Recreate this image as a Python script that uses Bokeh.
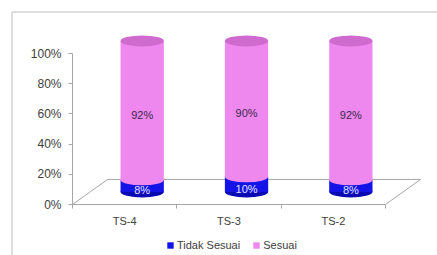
from bokeh.plotting import figure
from bokeh.models import (ColumnDataSource, FixedTicker, NumeralTickFormatter,
                          Legend, LegendItem, Range1d)
from bokeh.embed import file_html
from bokeh.resources import INLINE
from bokeh.core.properties import value

# ---- data ----
categories = ["TS-4", "TS-3", "TS-2"]
tidak_sesuai = [0.08, 0.10, 0.08]
sesuai = [0.92, 0.90, 0.92]
tidak_labels = ["8%", "10%", "8%"]
sesuai_labels = ["92%", "90%", "92%"]
y_ticks = [0, 0.2, 0.4, 0.6, 0.8, 1.0]

# ---- style / geometry ----
FONT = "Liberation Sans"
TXT = "#404040"
GRID = "#a6a6a6"
BLUE = "#1414e6"
BLUE_DARK = "#0a0ab4"
PINK = "#ee88ee"
PINK_TOP = "#cf6acf"
DX, DY = 0.168, 0.083          # half depth offset in data units
CW, EH = 0.415, 0.072          # cylinder width, ellipse height

W, H = 437, 255
X0, XS = 72, 104.33            # canvas px of x=0, px per x unit
Y0, YS = 204, 151              # canvas px of y=0, px per y unit


def px_x(px):
    return (px - X0) / XS


def px_y(py):
    return (Y0 - py) / YS


n = len(categories)
xc = [i + 0.5 + DX for i in range(n)]
base = [DY] * n
split = [b + t for b, t in zip(base, tidak_sesuai)]
top = [s + v for s, v in zip(split, sesuai)]

src = ColumnDataSource(dict(
    x=xc, base=base, split=split, top=top,
    blue_mid=[(b + s) / 2 for b, s in zip(base, split)],
    blue_h=tidak_sesuai,
    pink_mid=[(s + t) / 2 for s, t in zip(split, top)],
    pink_h=sesuai,
    pink_lab_y=[(s + t) / 2 - 0.03 for s, t in zip(split, top)],
    blue_lab_y=[(b + s) / 2 - 0.03 for b, s in zip(base, split)],
    tl=tidak_labels, sl=sesuai_labels,
))

p = figure(width=W, height=H, output_backend="svg", toolbar_location=None,
           x_range=Range1d(px_x(0), px_x(W)), y_range=Range1d(px_y(H), px_y(0)),
           min_border=0)
p.outline_line_color = None
p.grid.visible = False

# chart-area border (top and left)
bx, by = px_x(11.5), px_y(11.5)
p.segment([bx, bx], [by, by], [bx, px_x(W)], [px_y(H), by],
          line_color="#bdbdbd", line_width=1)

# floor
p.patch([0, 3, 3 + 2 * DX, 2 * DX], [0, 0, 2 * DY, 2 * DY],
        fill_color=None, line_color=GRID, line_width=1)

# blue segment
p.ellipse("x", "base", width=CW, height=EH, source=src,
          fill_color=BLUE_DARK, line_color=None)
r_blue = p.rect("x", "blue_mid", width=CW, height="blue_h", source=src,
                fill_color=BLUE, line_color=None)
# pink segment
p.ellipse("x", "split", width=CW, height=EH, source=src,
          fill_color=PINK, line_color=None)
r_pink = p.rect("x", "pink_mid", width=CW, height="pink_h", source=src,
                fill_color=PINK, line_color=None)
p.ellipse("x", "top", width=CW, height=EH, source=src,
          fill_color=PINK_TOP, line_color=None)

# labels
p.text("x", "pink_lab_y", text="sl", source=src, text_font=value(FONT),
       text_font_size="11px", text_color="#3a2a4a", text_align="center",
       text_baseline="middle")
p.text("x", "blue_lab_y", text="tl", source=src, text_font=value(FONT),
       text_font_size="11px", text_color="#e0e0ff", text_align="center",
       text_baseline="middle")

# axes
ya = p.yaxis[0]
ya.fixed_location = 0
ya.ticker = FixedTicker(ticks=y_ticks)
ya.formatter = NumeralTickFormatter(format="0%")
ya.bounds = (0, 1)
ya.axis_line_color = GRID
ya.major_tick_line_color = GRID
ya.major_tick_out = 4
ya.major_tick_in = 0
ya.minor_tick_line_color = None
ya.major_label_text_font = FONT
ya.major_label_text_font_size = "12px"
ya.major_label_text_color = TXT
ya.major_label_standoff = 7

xa = p.xaxis[0]
xa.fixed_location = 0
xa.ticker = FixedTicker(ticks=[i + 0.5 for i in range(n)],
                        minor_ticks=list(range(n + 1)))
xa.major_label_overrides = {i + 0.5: c for i, c in enumerate(categories)}
xa.bounds = (0, 3)
xa.axis_line_color = GRID
xa.major_tick_line_color = None
xa.minor_tick_line_color = GRID
xa.minor_tick_out = 4
xa.minor_tick_in = 0
xa.major_label_text_font = FONT
xa.major_label_text_font_size = "11px"
xa.major_label_text_color = TXT
xa.major_label_standoff = 4

legend = Legend(items=[LegendItem(label="Tidak Sesuai", renderers=[r_blue]),
                       LegendItem(label="Sesuai", renderers=[r_pink])],
                orientation="horizontal", location=(166, 4),
                label_text_font=FONT, label_text_font_size="11px",
                label_text_color=TXT, glyph_width=8, glyph_height=8,
                label_standoff=3, spacing=12, padding=2, margin=0,
                border_line_color=None, background_fill_alpha=0)
p.add_layout(legend, "center")

open("out.html", "w").write(file_html(p, INLINE))
